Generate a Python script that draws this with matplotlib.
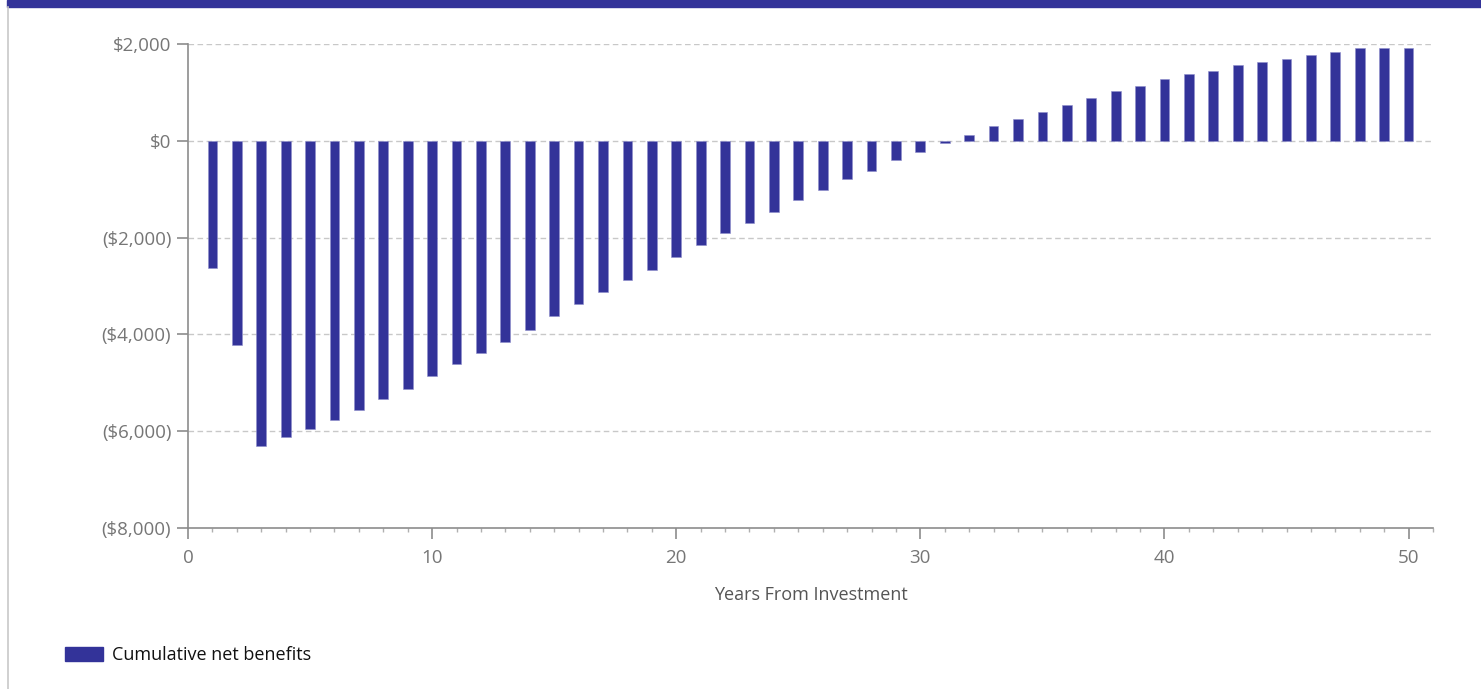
import matplotlib
matplotlib.use("Agg")
import matplotlib.pyplot as plt
from matplotlib.patches import Rectangle
from matplotlib.lines import Line2D
from matplotlib.ticker import MultipleLocator, FuncFormatter

years = list(range(1, 51))
cumulative_net_benefits = [
    -2625, -4227, -6303, -6124, -5945, -5767, -5553, -5340, -5120, -4866,
    -4619, -4378, -4158, -3904, -3622, -3368, -3120, -2872, -2660, -2406,
    -2158, -1904, -1691, -1471, -1230, -1010, -797, -619, -405, -227,
    -50, 130, 303, 447, 592, 736, 880, 1025, 1128, 1272,
    1381, 1450, 1560, 1629, 1697, 1773, 1841, 1911, 1911, 1911,
]
series_label = "Cumulative net benefits"
x_label = "Years From Investment"
y_ticks = [2000, 0, -2000, -4000, -6000, -8000]
x_ticks = [0, 10, 20, 30, 40, 50]

BAR = "#333399"
GRID = "#c8c8c8"
SPINE = "#8c8c8c"
TICKTXT = "#767676"

plt.rcParams['font.family'] = ['Open Sans', 'DejaVu Sans']

W, H = 1481, 689
fig = plt.figure(figsize=(W / 100, H / 100), dpi=100)
fig.patch.set_facecolor("white")

# top band and left border
fig.patches.append(Rectangle((7 / W, 1 - 7 / H), 1 - 7 / W, 7 / H,
                             transform=fig.transFigure, color=BAR, zorder=0))
fig.lines.append(Line2D([7.5 / W, 7.5 / W], [0, 1 - 7 / H], transform=fig.transFigure,
                        color="#c8c8c8", lw=1.2))

ax = fig.add_axes([188 / W, 1 - 528 / H, (1433 - 188) / W, (528 - 44) / H])
ax.bar(years, cumulative_net_benefits, width=0.4, color=BAR,
       edgecolor="#8f8fcc", linewidth=0.4, zorder=3, label=series_label)

ax.set_xlim(0, 51)
ax.set_ylim(-8000, 2000)
ax.set_yticks(y_ticks)
ax.set_xticks(x_ticks)
ax.xaxis.set_minor_locator(MultipleLocator(1))


def money(v, pos=None):
    v = int(round(v))
    if v < 0:
        return "(${:,})".format(-v)
    return "${:,}".format(v)


ax.yaxis.set_major_formatter(FuncFormatter(money))

for y in y_ticks:
    if y != -8000:
        ax.axhline(y, color=GRID, lw=1, ls=(0, (4, 2.5)), zorder=1)

for s in ["top", "right"]:
    ax.spines[s].set_visible(False)
for s in ["left", "bottom"]:
    ax.spines[s].set_color(SPINE)
    ax.spines[s].set_linewidth(1.2)

ax.tick_params(axis="both", which="major", colors=SPINE, labelcolor=TICKTXT,
               labelsize=13.5, length=8, width=1.2)
ax.tick_params(axis="x", which="minor", colors="#b0b0b0", length=3, width=1)
ax.tick_params(axis="x", pad=7)
ax.tick_params(axis="y", pad=4)

ax.set_xlabel(x_label, fontsize=13, color="#555555", labelpad=14)

handle = Rectangle((0, 0), 1, 1, color=BAR)
fig.legend([handle], [series_label], loc="center left",
           bbox_to_anchor=(49 / W, 1 - 655 / H), frameon=False,
           fontsize=13, handlelength=2.1, handleheight=0.8, handletextpad=0.5,
           labelcolor="#111111")

fig.savefig("out.png", dpi=100)
